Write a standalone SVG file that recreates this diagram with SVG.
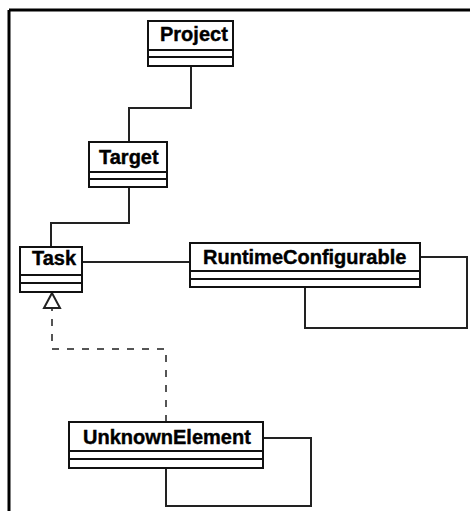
<svg xmlns="http://www.w3.org/2000/svg" width="471" height="511" viewBox="0 0 471 511">
  <style>
    .box { fill: #ffffff; stroke: #111111; stroke-width: 2; }
    .sep { stroke: #111111; stroke-width: 2; }
    .name { font-family: "Liberation Sans", Arial, sans-serif; font-weight: bold; font-size: 20px; fill: #000000; stroke: #000000; stroke-width: 0.4; }
    .assoc { fill: none; stroke: #222222; stroke-width: 2; }
    .real { fill: none; stroke: #555555; stroke-width: 2; stroke-dasharray: 7 8; }
    .frame { stroke: #000000; stroke-width: 3; }
  </style>

  <rect x="0" y="0" width="471" height="511" fill="#ffffff"/>

  <!-- frame: top and left edges -->
  <line class="frame" x1="9" y1="10" x2="470" y2="10"/>
  <line class="frame" x1="9" y1="10" x2="9" y2="511"/>

  <g id="connectors">
    <!-- Project - Target -->
    <path class="assoc" d="M191 66 V108 H129 V142"/>
    <!-- Target - Task -->
    <path class="assoc" d="M129 187 V223 H51 V247"/>
    <!-- Task - RuntimeConfigurable -->
    <path class="assoc" d="M82 262 H190"/>
    <!-- RuntimeConfigurable self association -->
    <path class="assoc" d="M420 257 H467 V328 H305 V287"/>
    <!-- UnknownElement realizes Task -->
    <path class="real" d="M166 422 V349 H52 V308"/>
    <polygon points="52,293 44,308 60,308" fill="#ffffff" stroke="#222222" stroke-width="2"/>
    <!-- UnknownElement self association -->
    <path class="assoc" d="M263 438 H311 V506 H166 V468"/>
  </g>

  <g id="project">
    <rect class="box" x="148" y="21" width="85" height="45"/>
    <line class="sep" x1="148" y1="50" x2="233" y2="50"/>
    <line class="sep" x1="148" y1="57" x2="233" y2="57"/>
    <text class="name" x="160" y="41">Project</text>
  </g>

  <g id="target">
    <rect class="box" x="89" y="142" width="78" height="45"/>
    <line class="sep" x1="89" y1="172" x2="167" y2="172"/>
    <line class="sep" x1="89" y1="179" x2="167" y2="179"/>
    <text class="name" x="99" y="164">Target</text>
  </g>

  <g id="task">
    <rect class="box" x="20" y="247" width="62" height="45"/>
    <line class="sep" x1="20" y1="275" x2="82" y2="275"/>
    <line class="sep" x1="20" y1="283" x2="82" y2="283"/>
    <text class="name" x="32" y="265">Task</text>
  </g>

  <g id="runtime-configurable">
    <rect class="box" x="190" y="243" width="230" height="44"/>
    <line class="sep" x1="190" y1="271" x2="420" y2="271"/>
    <line class="sep" x1="190" y1="279" x2="420" y2="279"/>
    <text class="name" x="203" y="264">RuntimeConfigurable</text>
  </g>

  <g id="unknown-element">
    <rect class="box" x="69" y="422" width="194" height="46"/>
    <line class="sep" x1="69" y1="451" x2="263" y2="451"/>
    <line class="sep" x1="69" y1="459" x2="263" y2="459"/>
    <text class="name" x="83" y="444">UnknownElement</text>
  </g>
</svg>
